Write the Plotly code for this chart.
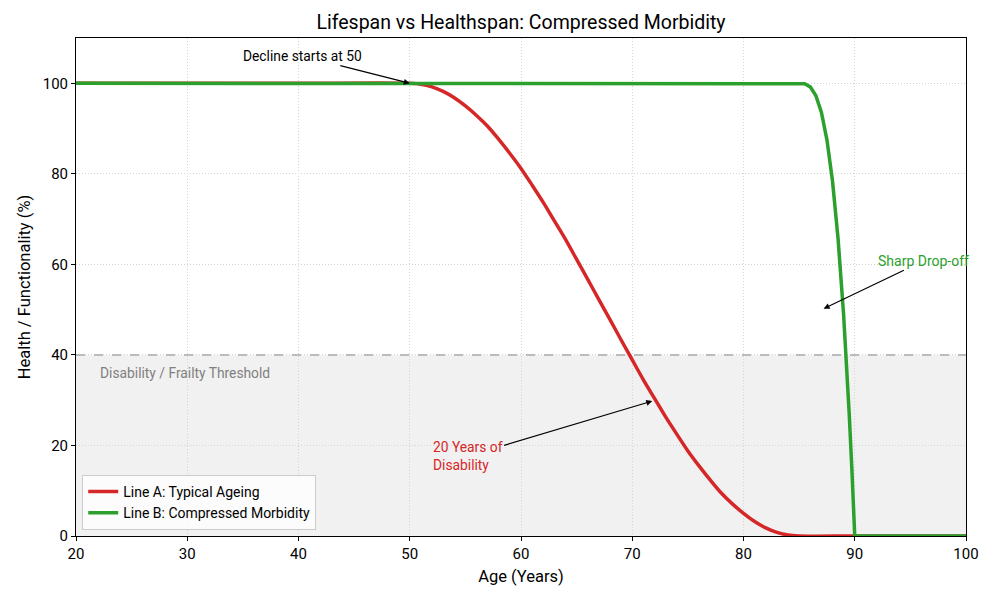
import plotly.graph_objects as go

# ---- data ----
age_a = [20, 30, 40, 50, 51, 52, 53, 54, 55, 56, 57, 58, 59, 60, 61, 62, 63, 64, 65, 66, 67,
         68, 69, 70, 71, 72, 73, 74, 75, 76, 77, 78, 79, 80, 81, 82, 83, 84, 85, 90, 100]
health_a = [100, 100, 100, 100, 99.8, 99.2, 98.2, 96.8, 95.0, 92.9, 90.5, 87.6, 84.5, 81.2,
            77.5, 73.7, 69.6, 65.5, 61.1, 56.7, 52.2, 47.8, 43.3, 38.9, 34.5, 30.4, 26.3, 22.5,
            18.8, 15.5, 12.4, 9.5, 7.1, 5.0, 3.2, 1.8, 0.8, 0.2, 0, 0, 0]

age_b = [20, 40, 60, 80, 85, 85.5, 86, 86.5, 87, 87.5, 88, 88.5, 89, 89.25, 89.5, 89.75, 90, 95, 100]
health_b = [100, 100, 100, 100, 100, 99.9, 99.2, 97.3, 93.6, 87.5, 78.4, 65.7, 48.8, 38.6, 27.1,
            14.3, 0, 0, 0]

threshold = 40
x_ticks = [20, 30, 40, 50, 60, 70, 80, 90, 100]
y_ticks = [0, 20, 40, 60, 80, 100]

FONT = "Roboto"

fig = go.Figure()
fig.add_trace(go.Scatter(x=age_a, y=health_a, mode="lines", name="Line A: Typical Ageing",
                         line=dict(color="#d62728", width=3.5, shape="spline", smoothing=0.8)))
fig.add_trace(go.Scatter(x=age_b, y=health_b, mode="lines", name="Line B: Compressed Morbidity",
                         line=dict(color="#2ca02c", width=3.5)))

# shaded disability zone and threshold line
fig.add_shape(type="rect", xref="x", yref="y", x0=20, x1=100, y0=0, y1=threshold,
              fillcolor="rgba(128,128,128,0.11)", line_width=0, layer="below")
fig.add_shape(type="line", xref="x", yref="y", x0=20, x1=100, y0=threshold, y1=threshold,
              line=dict(color="#aaaaaa", width=1.5, dash="dash"), layer="between")

fig.add_annotation(x=22, y=35.9, xref="x", yref="y", text="Disability / Frailty Threshold",
                   showarrow=False, xanchor="left", yanchor="middle",
                   font=dict(family=FONT, size=13.8, color="#808080"))

fig.add_annotation(x=50, y=100, ax=40.4, ay=106, xref="x", yref="y", axref="x", ayref="y",
                   text="Decline starts at 50", showarrow=True, arrowhead=2, arrowsize=1,
                   arrowwidth=1.2, arrowcolor="black",
                   font=dict(family=FONT, size=13.8, color="black"))
fig.add_annotation(x=87.2, y=50.2, ax=96.2, ay=60.8, xref="x", yref="y", axref="x", ayref="y",
                   text="Sharp Drop-off", showarrow=True, arrowhead=2, arrowsize=1,
                   arrowwidth=1.2, arrowcolor="black",
                   font=dict(family=FONT, size=14, color="#2ca02c"))
fig.add_annotation(x=71.8, y=29.8, ax=55.2, ay=17.6, xref="x", yref="y", axref="x", ayref="y",
                   text="20 Years of<br>Disability", align="left", showarrow=True, arrowhead=2,
                   arrowsize=1, arrowwidth=1.2, arrowcolor="black",
                   font=dict(family=FONT, size=13.8, color="#d62728"))

axis_common = dict(showline=True, linecolor="black", linewidth=1, mirror=True,
                   ticks="outside", ticklen=4, tickcolor="black", automargin=False,
                   showgrid=True, gridcolor="#d4d4d4", griddash="1px,2px", gridwidth=1,
                   zeroline=False, tickfont=dict(family=FONT, size=15, color="black"))

fig.update_layout(
    width=1000, height=600,
    margin=dict(l=68, r=42, t=30, b=72, autoexpand=False),
    paper_bgcolor="white", plot_bgcolor="white",
    font=dict(family=FONT, color="black"),
    title=dict(text="Lifespan vs Healthspan: Compressed Morbidity", x=0.513, xanchor="center",
               y=0.977, yanchor="middle", font=dict(family=FONT, size=19.5, color="black")),
    xaxis=dict(range=[20, 100], tickvals=x_ticks,
               title=dict(text="Age (Years)", font=dict(family=FONT, size=16.5), standoff=8),
               **axis_common),
    yaxis=dict(range=[0, 110], tickvals=y_ticks,
               title=dict(text="Health / Functionality (%)", font=dict(family=FONT, size=16.5), standoff=7),
               **axis_common),
    legend=dict(x=0.007, y=0.012, xanchor="left", yanchor="bottom",
                bgcolor="rgba(255,255,255,0.8)", bordercolor="#cccccc", borderwidth=1,
                font=dict(family=FONT, size=14, color="black"), tracegroupgap=0),
    showlegend=True,
)

fig.write_html("out.html")
